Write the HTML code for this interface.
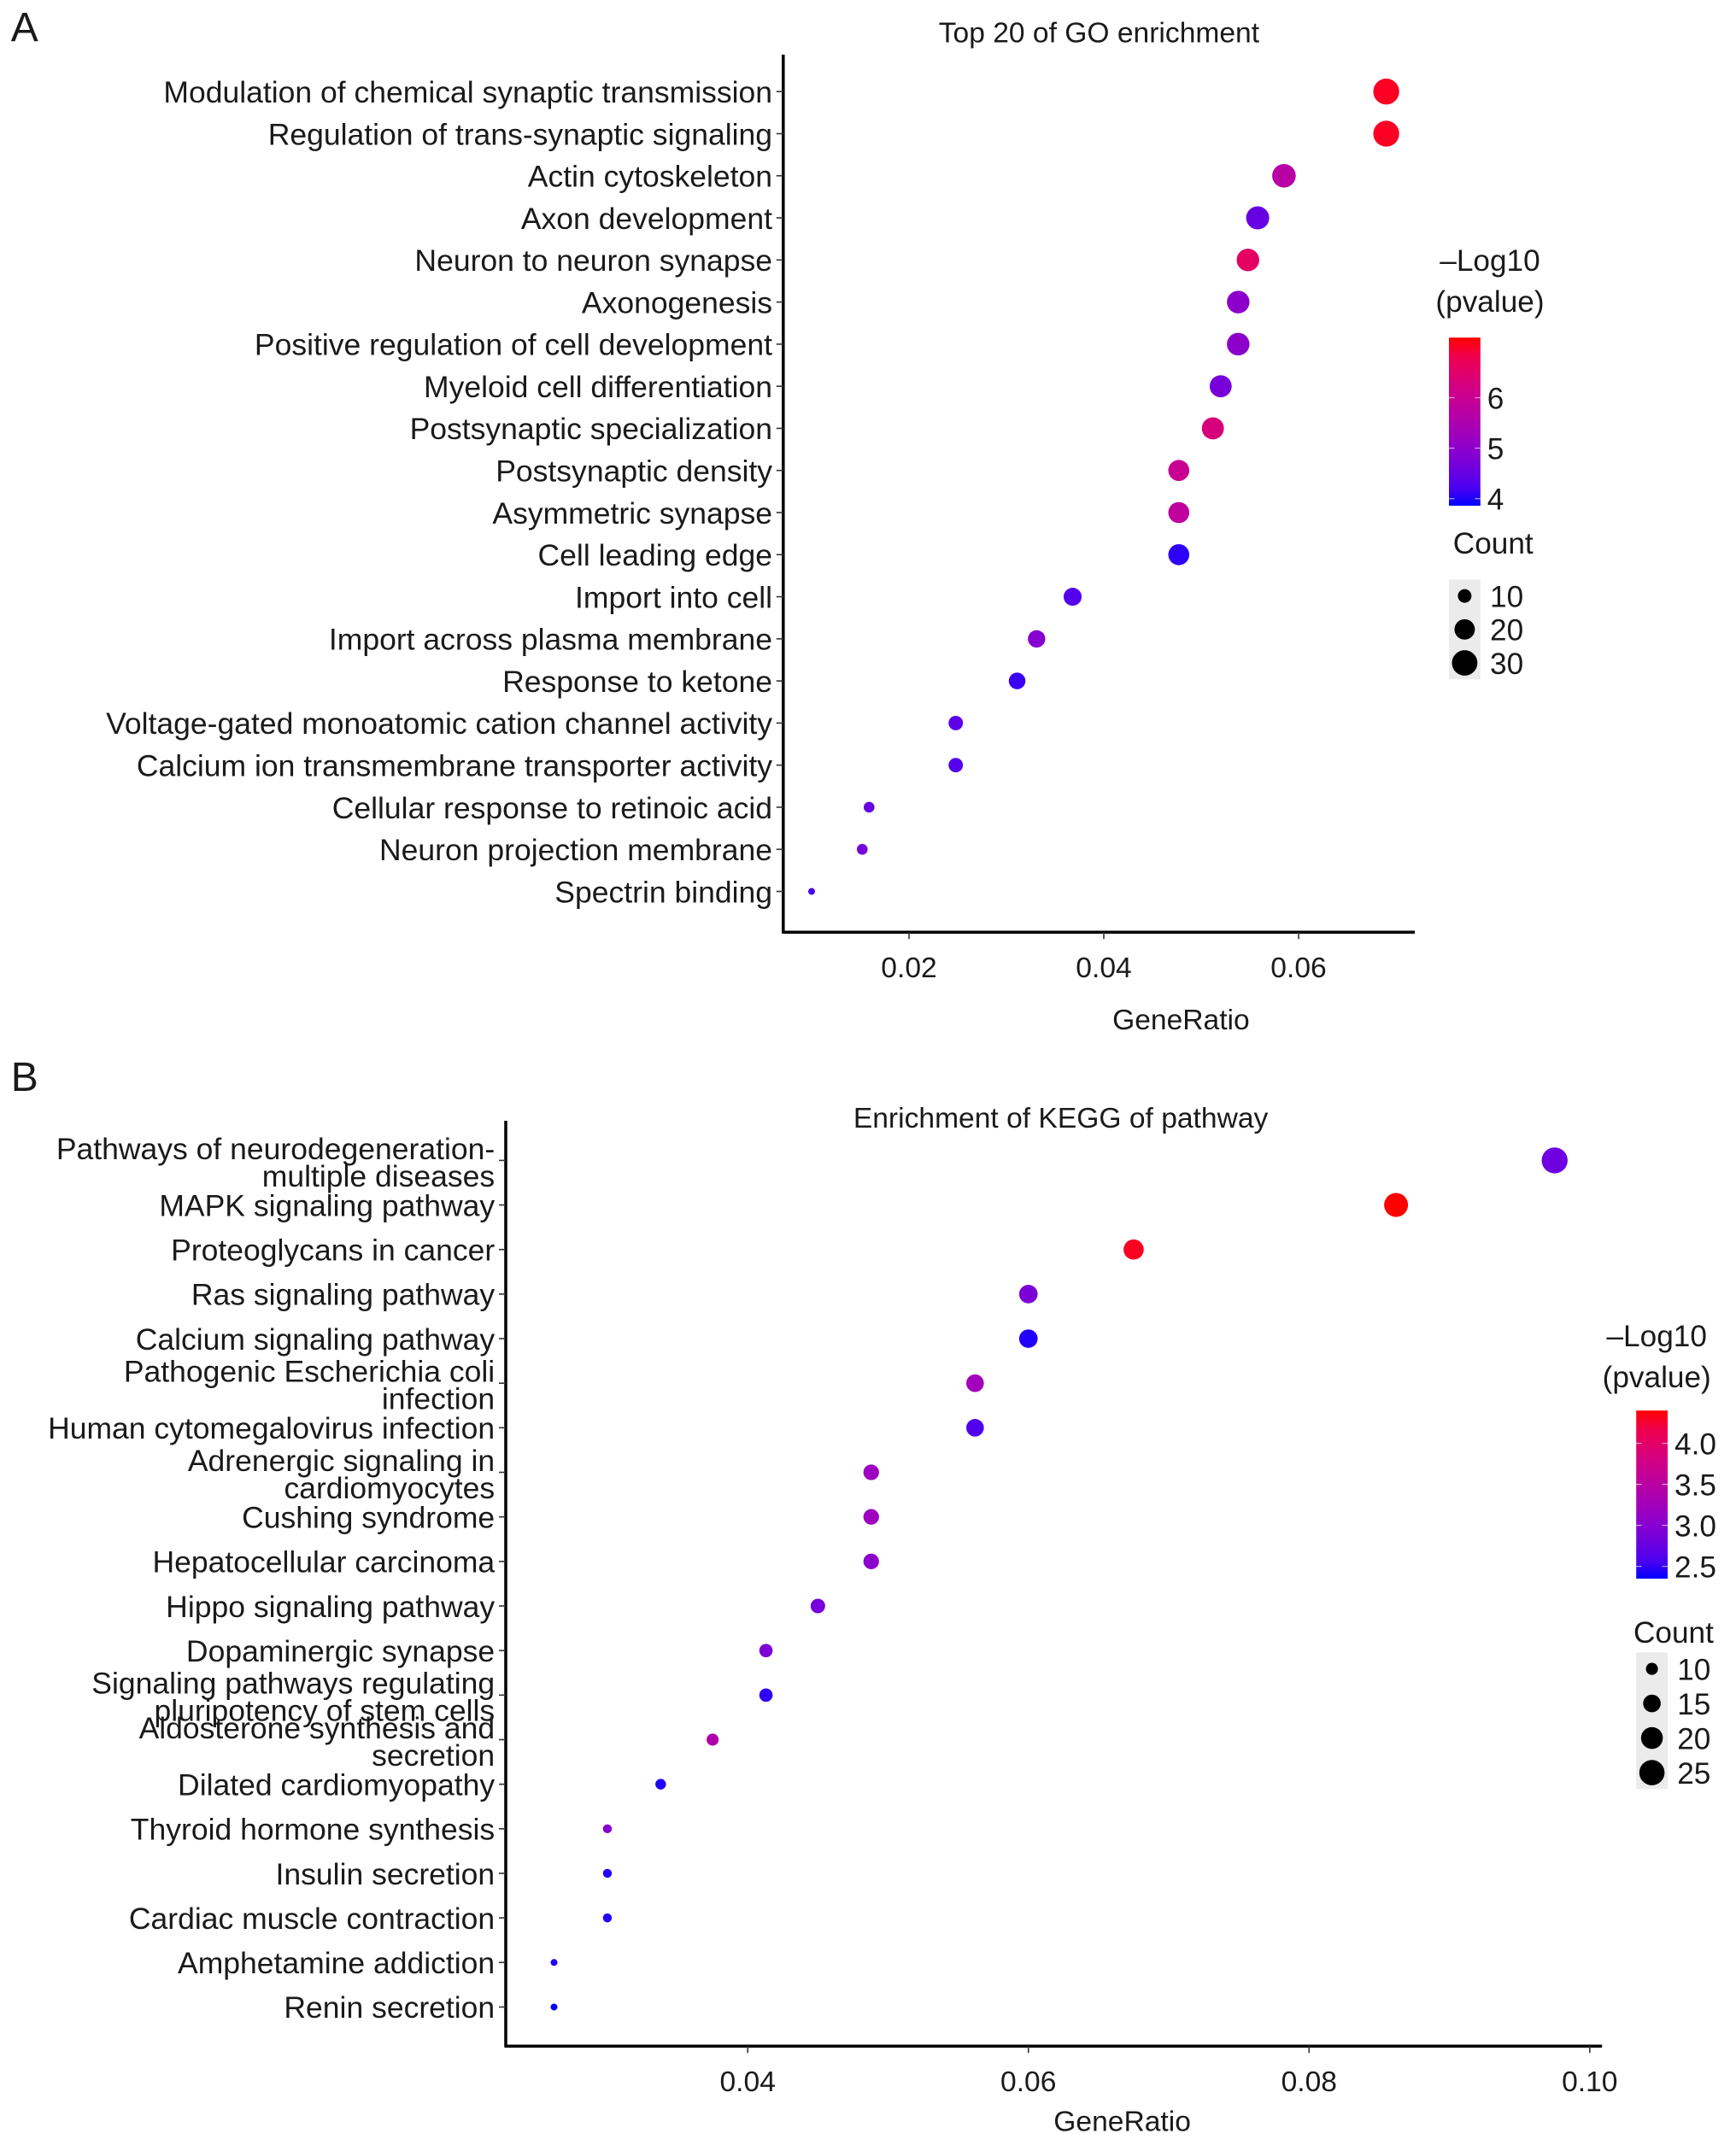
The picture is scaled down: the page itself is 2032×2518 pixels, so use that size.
<!DOCTYPE html>
<html><head><meta charset="utf-8">
<style>
html,body{margin:0;padding:0;background:#fff;}
svg{display:block;}
text{font-family:"Liberation Sans",Arial,sans-serif;fill:#1a1a1a;}
</style></head>
<body>
<svg id="fig" width="2032" height="2518" viewBox="0 0 1270 1573.75" xmlns="http://www.w3.org/2000/svg"></svg>
<script>
// ---------- Panel A data (GO) ----------
const goTerms = ["Modulation of chemical synaptic transmission","Regulation of trans-synaptic signaling","Actin cytoskeleton","Axon development","Neuron to neuron synapse","Axonogenesis","Positive regulation of cell development","Myeloid cell differentiation","Postsynaptic specialization","Postsynaptic density","Asymmetric synapse","Cell leading edge","Import into cell","Import across plasma membrane","Response to ketone","Voltage-gated monoatomic cation channel activity","Calcium ion transmembrane transporter activity","Cellular response to retinoic acid","Neuron projection membrane","Spectrin binding"];
const goRatio = [0.069,0.069,0.0585,0.0558,0.0548,0.0538,0.0538,0.052,0.0512,0.0477,0.0477,0.0477,0.0368,0.0331,0.0311,0.0248,0.0248,0.0159,0.0152,0.010];
const goCount = [31,31,26,25,24,24,24,23,23,21,21,21,16,15,14,11,11,7,7,4];
const goLogP = [7.1,7.1,5.7,4.5,6.6,5.0,5.0,4.7,6.3,6.0,5.8,4.0,4.3,4.9,4.1,4.4,4.3,4.5,4.7,4.2];
const goXTicks = [0.02,0.04,0.06];
const goColorTicks = [4,5,6];
const goSizeTicks = [10,20,30];

// ---------- Panel B data (KEGG) ----------
const keggTerms = [["Pathways of neurodegeneration-","multiple diseases"],["MAPK signaling pathway"],["Proteoglycans in cancer"],["Ras signaling pathway"],["Calcium signaling pathway"],["Pathogenic Escherichia coli","infection"],["Human cytomegalovirus infection"],["Adrenergic signaling in","cardiomyocytes"],["Cushing syndrome"],["Hepatocellular carcinoma"],["Hippo signaling pathway"],["Dopaminergic synapse"],["Signaling pathways regulating","pluripotency of stem cells"],["Aldosterone synthesis and","secretion"],["Dilated cardiomyopathy"],["Thyroid hormone synthesis"],["Insulin secretion"],["Cardiac muscle contraction"],["Amphetamine addiction"],["Renin secretion"]];
const keggRatio = [0.0975,0.0862,0.0675,0.060,0.060,0.0562,0.0562,0.0488,0.0488,0.0488,0.045,0.0413,0.0413,0.0375,0.0338,0.030,0.030,0.030,0.0262,0.0262];
const keggCount = [26,23,18,16,16,15,15,13,13,13,12,11,11,10,9,8,8,8,7,7];
const keggLogP = [2.8,4.4,4.35,2.9,2.4,3.25,2.6,3.2,3.2,3.05,2.85,2.9,2.45,3.4,2.4,3.0,2.4,2.4,2.4,2.35];
const keggXTicks = [0.04,0.06,0.08,0.10];
const keggXTickLabels = ["0.04","0.06","0.08","0.10"];
const keggColorTicks = [2.5,3.0,3.5,4.0];
const keggColorTickLabels = ["2.5","3.0","3.5","4.0"];
const keggSizeTicks = [10,15,20,25];

const svg = document.getElementById('fig');
const NS = "http://www.w3.org/2000/svg";
function mk(tag, attrs, parent){ const e=document.createElementNS(NS,tag); for(const k in attrs) e.setAttribute(k,attrs[k]); (parent||svg).appendChild(e); return e; }
function txt(s, attrs, parent){ const e=mk('text',attrs,parent); e.textContent=s; return e; }
function col(v,lo,hi){ let t=(v-lo)/(hi-lo); t=Math.max(0,Math.min(1,t)); const r=Math.round(255*Math.pow(t,0.55)), b=Math.round(255*Math.pow(1-t,0.55)); return `rgb(${r},0,${b})`; }

function panel(cfg){
  const g = mk('g',{});
  
  
  const xS = v => cfg.x0px + (v-cfg.x0v)/(cfg.x1v-cfg.x0v)*(cfg.x1px-cfg.x0px);
  const yS = i => cfg.yTop + i*cfg.yStep;
  const cmin=Math.min(...cfg.count), cmax=Math.max(...cfg.count);
  const rS = c => Math.sqrt(6.25 + 83.75*(c-cmin)/(cmax-cmin));
  const cS = v => col(v, cfg.cLo, cfg.cHi);
  const L = txt(cfg.letter,{x:8,y:cfg.letterY,'font-size':30},g);
   
  const T = txt(cfg.title,{x:cfg.titleX,y:cfg.titleY,'font-size':21,'text-anchor':'middle'},g);
   
  const ya = mk('line',{x1:cfg.axX,y1:cfg.axTop,x2:cfg.axX,y2:cfg.axY,stroke:'#000','stroke-width':2.2},g);
   
  const xa = mk('line',{x1:cfg.axX-1,y1:cfg.axY,x2:cfg.axRight,y2:cfg.axY,stroke:'#000','stroke-width':2.2},g);
   
  cfg.xTicks.forEach((v,i)=>{
    const x=xS(v);
    const tk=mk('line',{x1:x,y1:cfg.axY,x2:x,y2:cfg.axY+5,stroke:'#333','stroke-width':1},g);
     
    const tl=txt(cfg.xTickLabels?cfg.xTickLabels[i]:String(v),{x:x,y:cfg.axY+33,'font-size':21,'text-anchor':'middle',fill:'#333'},g);
     
  });
  const xt=txt('GeneRatio',{x:cfg.xTitleX,y:cfg.xTitleY,'font-size':21,'text-anchor':'middle'},g);
   
  cfg.terms.forEach((t,i)=>{
    const y=yS(i);
    const tk=mk('line',{x1:cfg.axX-5,y1:y,x2:cfg.axX,y2:y,stroke:'#333','stroke-width':1},g);
     
    const lines = Array.isArray(t)?t:[t];
    lines.forEach((s,j)=>{
      const yy = lines.length===1 ? y+8 : y-1 + j*20;
      const tl=txt(s,{x:cfg.axX-8,y:yy,'font-size':22.2,'text-anchor':'end'},g);
       
    });
  });
  cfg.ratio.forEach((v,i)=>{
    const c=mk('circle',{cx:xS(v),cy:yS(i),r:rS(cfg.count[i]),fill:cS(cfg.logp[i])},g);
    
    
  });
  const lg = cfg.leg;
  const t1=txt('\u2013Log10',{x:lg.titleX,y:lg.titleY,'font-size':22,'text-anchor':'middle'},g);
   
  const t2=txt('(pvalue)',{x:lg.titleX,y:lg.titleY+30,'font-size':22,'text-anchor':'middle'},g);
   
  const gid='grad'+cfg.letter;
  const defs=mk('defs',{},g);
  const gr=mk('linearGradient',{id:gid,x1:0,y1:1,x2:0,y2:0},defs);
  for(let k=0;k<=10;k++){ const t=k/10; mk('stop',{offset:t,'stop-color':col(t,0,1)},gr); }
  const cb=mk('rect',{x:lg.barX,y:lg.barTop,width:23,height:lg.barBot-lg.barTop,fill:`url(#${gid})`},g);
   
  const cy = v => lg.barBot - (v-cfg.cLo)/(cfg.cHi-cfg.cLo)*(lg.barBot-lg.barTop);
  cfg.cTicks.forEach((v,i)=>{
    const y=cy(v);
    mk('line',{x1:lg.barX,y1:y,x2:lg.barX+4,y2:y,stroke:'#fff','stroke-width':0.8,opacity:0.6},g);
    mk('line',{x1:lg.barX+19,y1:y,x2:lg.barX+23,y2:y,stroke:'#fff','stroke-width':0.8,opacity:0.6},g);
    const tl=txt(cfg.cTickLabels?cfg.cTickLabels[i]:String(v),{x:lg.barX+28,y:y+8,'font-size':22},g);
     
  });
  const st=txt('Count',{x:lg.cntX,y:lg.cntY,'font-size':22},g);
   
  const n=cfg.sizeTicks.length;
  mk('rect',{x:lg.barX,y:lg.sizeY0-12,width:23,height:(n-1)*lg.sizeStep+24,fill:'#ebebeb'},g);
  cfg.sizeTicks.forEach((v,i)=>{
    const y=lg.sizeY0+i*lg.sizeStep;
    const d=mk('circle',{cx:lg.barX+11.5,cy:y,r:rS(v),fill:'#000'},g);
     
    const tl=txt(String(v),{x:lg.barX+30,y:y+8,'font-size':22},g);
     
  });
}

panel({name:'go-enrichment-panel',letter:'A',letterY:30,title:'Top 20 of GO enrichment',titleX:804,titleY:31,
  terms:goTerms,ratio:goRatio,count:goCount,logp:goLogP,xTicks:goXTicks,
  x0v:0.02,x1v:0.06,x0px:665,x1px:950,yTop:67,yStep:30.8,
  axX:573,axTop:40,axY:682,axRight:1035,xTitleX:864,xTitleY:753,
  cLo:3.86,cHi:7.19,cTicks:goColorTicks,sizeTicks:goSizeTicks,
  leg:{titleX:1090,titleY:198,barX:1060,barTop:247,barBot:370,cntX:1063,cntY:405,sizeY0:436,sizeStep:24.5}});

panel({name:'kegg-enrichment-panel',letter:'B',letterY:798,title:'Enrichment of KEGG of pathway',titleX:776,titleY:825,
  terms:keggTerms,ratio:keggRatio,count:keggCount,logp:keggLogP,xTicks:keggXTicks,xTickLabels:keggXTickLabels,
  x0v:0.04,x1v:0.10,x0px:547,x1px:1163,yTop:849,yStep:32.6,
  axX:370,axTop:820,axY:1497,axRight:1172,xTitleX:821,xTitleY:1559,
  cLo:2.35,cHi:4.4,cTicks:keggColorTicks,cTickLabels:keggColorTickLabels,sizeTicks:keggSizeTicks,
  leg:{titleX:1212,titleY:985,barX:1197,barTop:1032,barBot:1155,cntX:1195,cntY:1202,sizeY0:1221,sizeStep:25.3}});
</script>
</body></html>
